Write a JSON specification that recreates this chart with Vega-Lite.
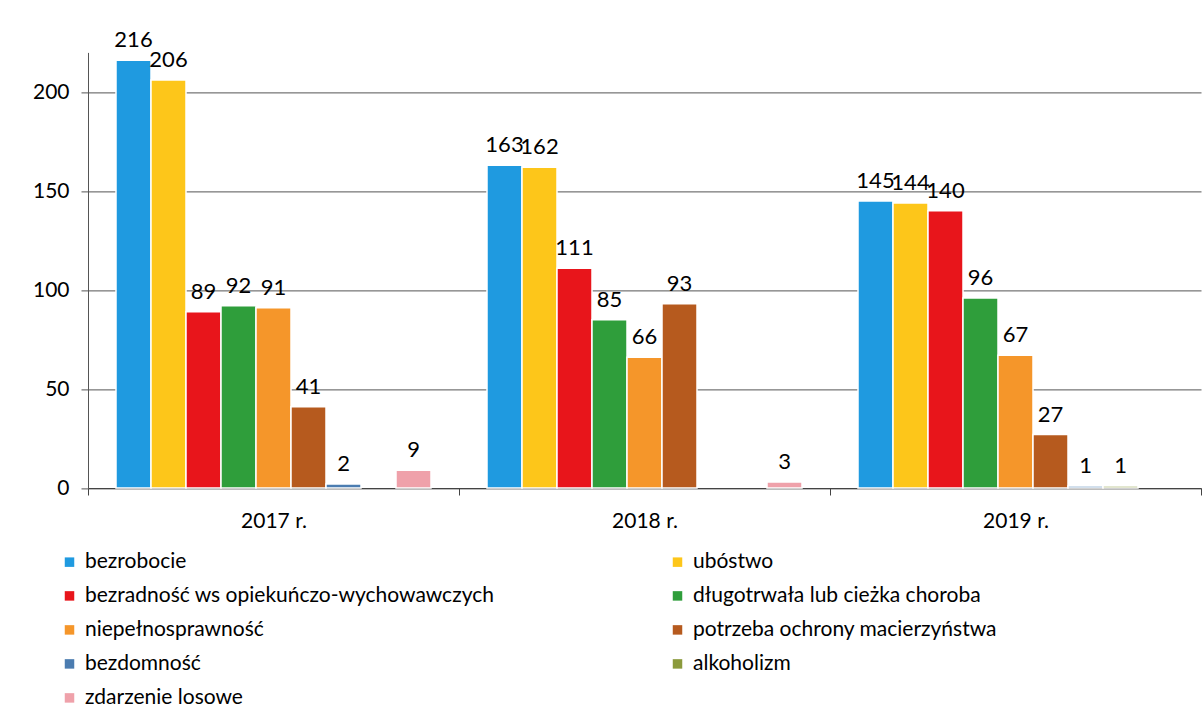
{
  "$schema": "https://vega.github.io/schema/vega-lite/v6.json",
  "autosize": "none",
  "width": 1113,
  "height": 435.6,
  "padding": {"left": 88, "top": 52.4, "right": 3, "bottom": 225},
  "background": "white",
  "config": {
    "font": "Lato",
    "view": {"stroke": null},
    "axis": {"labelFont": "Lato", "labelColor": "#000", "labelFontSize": 21}
  },
  "data": {
    "values": [
      {"year": "2017 r.", "cat": "bezrobocie", "value": 216},
      {"year": "2017 r.", "cat": "ubóstwo", "value": 206},
      {"year": "2017 r.", "cat": "bezradność ws opiekuńczo-wychowawczych", "value": 89},
      {"year": "2017 r.", "cat": "długotrwała lub cieżka choroba", "value": 92},
      {"year": "2017 r.", "cat": "niepełnosprawność", "value": 91},
      {"year": "2017 r.", "cat": "potrzeba ochrony macierzyństwa", "value": 41},
      {"year": "2017 r.", "cat": "bezdomność", "value": 2},
      {"year": "2017 r.", "cat": "zdarzenie losowe", "value": 9},
      {"year": "2018 r.", "cat": "bezrobocie", "value": 163},
      {"year": "2018 r.", "cat": "ubóstwo", "value": 162},
      {"year": "2018 r.", "cat": "bezradność ws opiekuńczo-wychowawczych", "value": 111},
      {"year": "2018 r.", "cat": "długotrwała lub cieżka choroba", "value": 85},
      {"year": "2018 r.", "cat": "niepełnosprawność", "value": 66},
      {"year": "2018 r.", "cat": "potrzeba ochrony macierzyństwa", "value": 93},
      {"year": "2018 r.", "cat": "zdarzenie losowe", "value": 3},
      {"year": "2019 r.", "cat": "bezrobocie", "value": 145},
      {"year": "2019 r.", "cat": "ubóstwo", "value": 144},
      {"year": "2019 r.", "cat": "bezradność ws opiekuńczo-wychowawczych", "value": 140},
      {"year": "2019 r.", "cat": "długotrwała lub cieżka choroba", "value": 96},
      {"year": "2019 r.", "cat": "niepełnosprawność", "value": 67},
      {"year": "2019 r.", "cat": "potrzeba ochrony macierzyństwa", "value": 27},
      {"year": "2019 r.", "cat": "bezdomność", "value": 1},
      {"year": "2019 r.", "cat": "alkoholizm", "value": 1}
    ]
  },
  "encoding": {
    "x": {
      "field": "year", "type": "nominal", "title": null,
      "scale": {"paddingInner": 0, "paddingOuter": 0},
      "axis": {"labelAngle": 0, "tickBand": "extent", "tickSize": 7, "tickColor": "#444", "domainColor": "#444", "labelPadding": 15}
    },
    "xOffset": {
      "field": "cat", "type": "nominal",
      "scale": {
        "domain": ["bezrobocie", "ubóstwo", "bezradność ws opiekuńczo-wychowawczych", "długotrwała lub cieżka choroba", "niepełnosprawność", "potrzeba ochrony macierzyństwa", "bezdomność", "alkoholizm", "zdarzenie losowe"],
        "paddingInner": 0, "paddingOuter": 0.8
      }
    },
    "y": {
      "field": "value", "type": "quantitative", "title": null,
      "scale": {"domain": [0, 220], "nice": false},
      "axis": {"values": [0, 50, 100, 150, 200], "grid": true, "gridColor": "#555", "gridWidth": 1, "tickSize": 7, "tickColor": "#555", "domainColor": "#555", "labelPadding": 12, "domain": true}
    }
  },
  "layer": [
    {
      "mark": {"type": "bar", "stroke": "white", "strokeWidth": 1.5},
      "encoding": {
        "color": {
          "field": "cat", "type": "nominal",
          "scale": {
            "domain": ["bezrobocie", "ubóstwo", "bezradność ws opiekuńczo-wychowawczych", "długotrwała lub cieżka choroba", "niepełnosprawność", "potrzeba ochrony macierzyństwa", "bezdomność", "alkoholizm", "zdarzenie losowe"],
            "range": ["#1f9ae0", "#fdc61a", "#e8151b", "#2f9e3b", "#f5962a", "#b65a1e", "#4b7cb0", "#8b9a3c", "#efa1aa"]
          },
          "legend": {
            "title": null, "orient": "none", "legendX": -29, "legendY": 499,
            "direction": "horizontal",
            "columns": 2, "columnPadding": 172, "rowPadding": 12,
            "symbolType": "square", "symbolSize": 90, "symbolStrokeWidth": 0,
            "labelFontSize": 21, "labelFont": "Lato", "labelColor": "#000", "labelOffset": 5,
            "labelLimit": 600
          }
        }
      }
    },
    {
      "mark": {"type": "text", "baseline": "bottom", "dy": -8, "fontSize": 22, "font": "Lato", "color": "#000"},
      "encoding": {"text": {"field": "value", "type": "quantitative"}}
    }
  ]
}
